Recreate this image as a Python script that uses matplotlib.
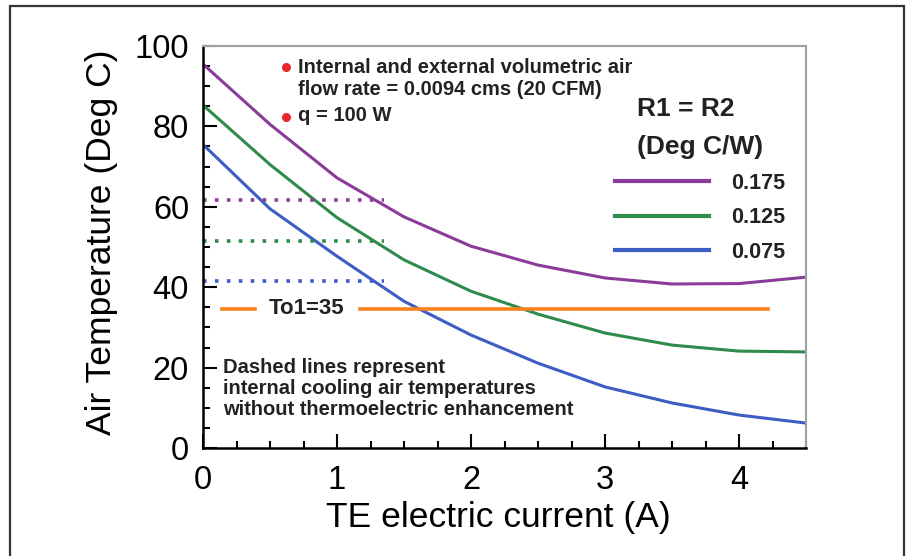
import numpy as np
import matplotlib.pyplot as plt
from matplotlib.patches import Rectangle
from matplotlib.ticker import MultipleLocator

# datos
corriente = [0, 0.5, 1, 1.5, 2, 2.5, 3, 3.5, 4, 4.5]
t_0175 = [95.5, 80.5, 67.2, 57.5, 50.2, 45.5, 42.3, 40.8, 40.9, 42.5]
t_0125 = [85.3, 70.5, 57.3, 46.8, 39.0, 33.3, 28.6, 25.6, 24.1, 23.9]
t_0075 = [75.5, 59.5, 47.7, 36.5, 28.1, 21.1, 15.2, 11.2, 8.2, 6.2]
etiquetas = ['0.175', '0.125', '0.075']

# lineas punteadas (sin mejora termoelectrica)
punteado_x = [0, 1.35]
punteado_y = [61.7, 51.5, 41.5]

# To1 = 35 (la linea se corta donde va el texto)
to1_x = [0.14, 0.39, np.nan, 1.17, 4.22]
to1 = 34.6

morado = '#8a3c98'
verde = '#2f8b4c'
azul = '#3d5cc4'
naranja = '#f7821e'
colores = [morado, verde, azul]

plt.rcParams['font.family'] = ['Liberation Sans', 'DejaVu Sans']

fig = plt.figure(figsize=(9.07, 5.56), dpi=100)
ax = fig.add_axes([203 / 907, 1 - 448 / 556, 603 / 907, 402 / 556])

lineas = []
for serie, c, et in zip([t_0175, t_0125, t_0075], colores, etiquetas):
    l, = ax.plot(corriente, serie, color=c, lw=2.2, label=et)
    lineas.append(l)

for yv, c in zip(punteado_y, colores):
    ax.plot(punteado_x, [yv, yv], color=c, lw=2.6, linestyle=(0, (1, 2.3)))

ax.plot(to1_x, [to1] * len(to1_x), color=naranja, lw=2.6)
ax.text(0.77, to1, 'To1=35', fontsize=16, fontweight='bold',
        ha='center', va='center', color='#222222')

ax.set_xlim(0, 4.5)
ax.set_ylim(0, 100)
ax.xaxis.set_major_locator(MultipleLocator(1))
ax.xaxis.set_minor_locator(MultipleLocator(0.25))
ax.yaxis.set_major_locator(MultipleLocator(20))
ax.yaxis.set_minor_locator(MultipleLocator(5))
ax.tick_params(which='both', direction='in', width=1.5, color='black')
ax.tick_params(which='major', length=10, labelsize=23.5)
ax.tick_params(axis='x', which='major', pad=12)
ax.tick_params(axis='y', which='major', pad=10)
ax.tick_params(which='minor', length=5)

for s in ['left', 'bottom']:
    ax.spines[s].set_linewidth(1.8)
    ax.spines[s].set_color('black')
for s in ['top', 'right']:
    ax.spines[s].set_linewidth(1.5)
    ax.spines[s].set_color('#a0a0a0')

# notas
ax.plot([0.62, 0.62], [94.8, 82.4], 'o', color='#e8262b', ms=6.5, mec='none')
ax.text(0.71, 91.9, 'Internal and external volumetric air\nflow rate = 0.0094 cms (20 CFM)',
        fontsize=14.5, fontweight='bold', ha='left', va='center',
        linespacing=1.15, color='#222222')
ax.text(0.71, 82.6, 'q = 100 W', fontsize=14.5, fontweight='bold',
        ha='left', va='center', color='#222222')
ax.text(0.15, 14.8, 'Dashed lines represent\ninternal cooling air temperatures\n'
        'without thermoelectric enhancement',
        fontsize=14.5, fontweight='bold', ha='left', va='center',
        linespacing=1.15, color='#222222')

leg = ax.legend(handles=lineas, title='R1 = R2\n(Deg C/W)', frameon=False,
                loc='upper right', bbox_to_anchor=(0.983, 0.90),
                borderpad=0, handlelength=4.4, handletextpad=1.0,
                labelspacing=0.63, prop={'size': 15.5, 'weight': 'bold'},
                title_fontproperties={'size': 19, 'weight': 'bold'})
leg.get_title().set_linespacing(1.75)
leg.get_title().set_color('#222222')
for t in leg.get_texts():
    t.set_color('#222222')
for h in leg.legend_handles:
    h.set_linewidth(3)

fig.text(102 / 907, 1 - 242.5 / 556, 'Air Temperature (Deg C)', rotation=90,
         fontsize=25.5, ha='center', va='center')
fig.text(498.5 / 907, 1 - 517 / 556, 'TE electric current (A)',
         fontsize=25.5, ha='center', va='center')

# marco de la imagen
fig.patches.append(Rectangle((10 / 907, -0.05), 894 / 907, 1.05 - 6 / 556,
                             transform=fig.transFigure, fill=False,
                             edgecolor='#333333', lw=1.6))

plt.savefig('out.png', dpi=100)
